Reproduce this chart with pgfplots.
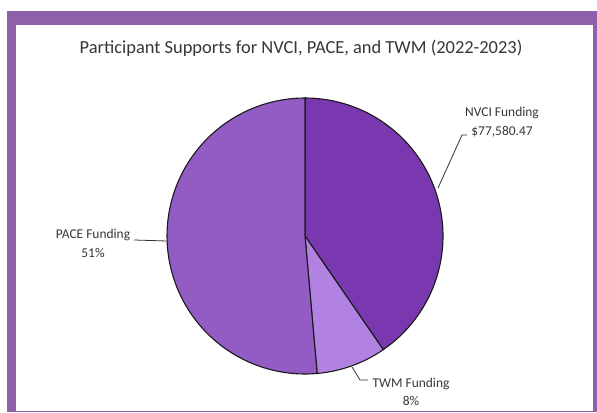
\documentclass[border=0pt]{standalone}
\usepackage{pgfplots}
\pgfplotsset{compat=1.18}
\usepackage{fontspec}
\setmainfont{Carlito}
\definecolor{frame}{RGB}{142,96,170}
\definecolor{nvci}{RGB}{122,56,176}
\definecolor{pace}{RGB}{146,92,196}
\definecolor{twm}{RGB}{178,130,226}
\definecolor{txt}{RGB}{55,55,55}
% shares of the pie (percent)
\def\pNVCI{40.4}
\def\pTWM{8.2}
\def\pPACE{51.4}
\begin{document}
\begin{tikzpicture}[x=1bp,y=1bp]
\fill[white] (0,0) rectangle (597,412);
\fill[frame] (7,0) rectangle (597,401);
\fill[white] (16,1) rectangle (593,387);
\begin{axis}[at={(0,0)},anchor=origin,scale only axis,width=597bp,height=412bp,
  xmin=0,xmax=597,ymin=0,ymax=412,hide axis,clip=false]
\pgfmathsetmacro\aA{90}
\pgfmathsetmacro\aB{90-3.6*\pNVCI}
\pgfmathsetmacro\aC{\aB-3.6*\pTWM}
\pgfmathsetmacro\aD{\aC-3.6*\pPACE}
\addplot[fill=nvci,draw=black!90,line width=1.1pt,domain=\aA:\aB,samples=80,variable=\t]
  ({305+138*cos(\t)},{176+138*sin(\t)}) -- (axis cs:305,176) -- cycle;
\addplot[fill=twm,draw=black!90,line width=1.1pt,domain=\aB:\aC,samples=30,variable=\t]
  ({305+138*cos(\t)},{176+138*sin(\t)}) -- (axis cs:305,176) -- cycle;
\addplot[fill=pace,draw=black!90,line width=1.1pt,domain=\aC:\aD,samples=100,variable=\t]
  ({305+138*cos(\t)},{176+138*sin(\t)}) -- (axis cs:305,176) -- cycle;
% leader lines
\draw[black!80,line width=0.8pt] (axis cs:438,224) -- (axis cs:462,277) -- (axis cs:467,277);
\draw[black!80,line width=0.8pt] (axis cs:167,171) -- (axis cs:134,172);
\draw[black!80,line width=0.8pt] (axis cs:352,45) -- (axis cs:360,32) -- (axis cs:368,32);
\node[txt,font=\fontsize{13.5}{19}\selectfont,align=center] at (axis cs:502,289.5) {NVCI Funding\\\$77,580.47};
\node[txt,font=\fontsize{13.5}{19}\selectfont,align=center] at (axis cs:93,169) {PACE Funding\\51\%};
\node[txt,font=\fontsize{13.5}{18}\selectfont,align=center] at (axis cs:411,20.5) {TWM Funding\\8\%};
\node[txt,font=\fontsize{18.5}{22}\selectfont] at (axis cs:301,364) {Participant Supports for NVCI, PACE, and TWM (2022-2023)};
\end{axis}
\end{tikzpicture}
\end{document}
